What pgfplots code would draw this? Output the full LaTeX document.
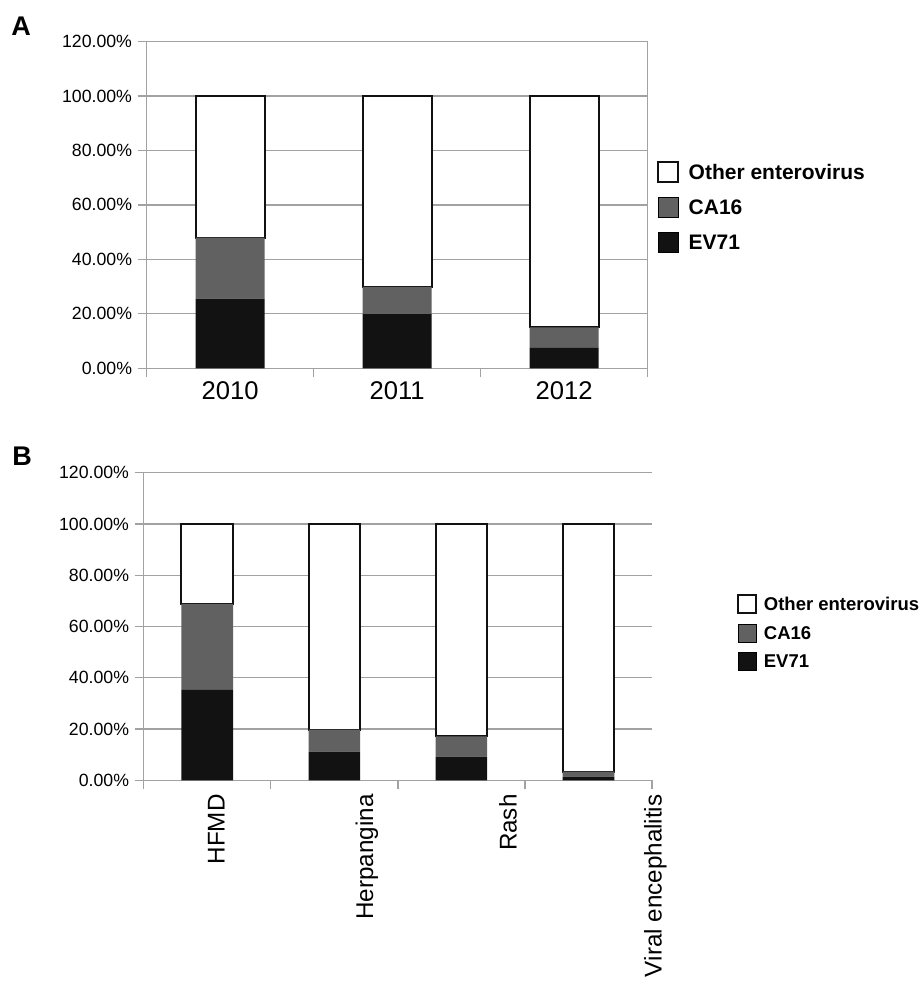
\documentclass[border=0pt]{standalone}
\usepackage{fontspec}
\setmainfont{Liberation Sans}
\usepackage{pgfplots}
\pgfplotsset{compat=1.18}
\definecolor{gridgray}{HTML}{A2A2A2}
\definecolor{evblack}{HTML}{121212}
\definecolor{cagray}{HTML}{616161}
\definecolor{barblack}{HTML}{111111}
\pgfplotsset{
  sqA/.style={legend image code/.code={\draw[##1] (0pt,-10pt) rectangle (20pt,10pt);}},
  sqB/.style={legend image code/.code={\draw[##1] (0pt,-9pt) rectangle (18pt,9pt);}},
  common/.style={
    scale only axis,
    ymin=0, ymax=120,
    ytick={0,20,...,120},
    ymajorgrids,
    grid style={gridgray, line width=1.3pt},
    axis line style={gridgray, line width=1.3pt},
    tick style={gridgray, line width=1.3pt},
    tick align=outside,
    major tick length=9pt,
    xtick pos=bottom, ytick pos=left,
    ybar stacked,
    /pgf/number format/assume math mode=true,
    yticklabel={\pgfmathprintnumber[fixed,fixed zerofill,precision=2]{\tick}\%},
    yticklabel style={font=\fontsize{17.7}{17.7}\selectfont, anchor=east, inner sep=0pt, xshift=-5.5pt},
    reverse legend,
  }
}
\begin{document}
\begin{tikzpicture}[x=1pt,y=1pt]
\useasboundingbox (0,0) rectangle (922,988);
\node[anchor=base west, inner sep=0pt, font=\fontsize{27}{27}\selectfont\bfseries] at (11.2,952.3) {A};
\node[anchor=base west, inner sep=0pt, font=\fontsize{27}{27}\selectfont\bfseries] at (12.2,522) {B};

% ---------------- Panel A ----------------
\begin{axis}[common,
  at={(146.7pt,619.7pt)}, anchor=south west,
  width=501pt, height=326.8pt,
  xmin=0, xmax=3,
  xtick={0,1,2,3}, xticklabels={},
  bar width=0.413,
  extra x ticks={0.5,1.5,2.5},
  extra x tick labels={2010,2011,2012},
  extra x tick style={major tick length=0pt, grid=none,
    xticklabel style={font=\fontsize{25.6}{25.6}\selectfont, anchor=north, inner sep=0pt, yshift=-13pt}},
  legend style={draw=none, fill=none, at={(1.018,0.634)}, anchor=north west,
    inner sep=0pt, outer sep=0pt, row sep=14pt, column sep=10pt,
    font=\fontsize{21}{21}\selectfont\bfseries,
    nodes={inner sep=0pt, text height=15pt, text depth=0pt, anchor=west},
    cells={anchor=west}},
]
\addplot[fill=evblack, draw=none, sqA] coordinates {(0.5,25.6) (1.5,19.9) (2.5,7.5)};
\addplot[fill=cagray, draw=none, sqA] coordinates {(0.5,22.4) (1.5,10.0) (2.5,7.5)};
\addplot[fill=white, draw=barblack, line width=2pt, sqA] coordinates {(0.5,52.0) (1.5,70.1) (2.5,85.0)};
\legend{EV71,CA16,Other enterovirus}
\end{axis}

% ---------------- Panel B ----------------
\begin{axis}[common,
  at={(143.7pt,207.7pt)}, anchor=south west,
  width=508.3pt, height=307.6pt,
  axis lines*=left,
  xmin=0, xmax=4,
  xtick={0,1,2,3,4}, xticklabels={},
  bar width=0.406,
  extra x ticks={0.496,1.664,2.793,3.935},
  extra x tick labels={HFMD,Herpangina,Rash,Viral encephalitis},
  extra x tick style={major tick length=0pt, grid=none,
    xticklabel style={font=\fontsize{24.2}{24.2}\selectfont, xshift=18pt, yshift=-14pt, rotate=90, anchor=base east, inner sep=0pt}},
  legend style={draw=none, fill=none, at={(1.168,0.606)}, anchor=north west,
    inner sep=0pt, outer sep=0pt, row sep=9.8pt, column sep=6.5pt,
    font=\fontsize{18.5}{18.5}\selectfont\bfseries,
    nodes={inner sep=0pt, text height=13.2pt, text depth=0pt, anchor=west},
    cells={anchor=west}},
]
\addplot[fill=evblack, draw=none, sqB] coordinates {(0.5,35.3) (1.5,11.2) (2.5,9.2) (3.5,1.4)};
\addplot[fill=cagray, draw=none, sqB] coordinates {(0.5,33.5) (1.5,8.6) (2.5,7.9) (3.5,2.0)};
\addplot[fill=white, draw=barblack, line width=2pt, sqB] coordinates {(0.5,31.2) (1.5,80.2) (2.5,82.9) (3.5,96.6)};
\legend{EV71,CA16,Other enterovirus}
\end{axis}
\end{tikzpicture}
\end{document}
